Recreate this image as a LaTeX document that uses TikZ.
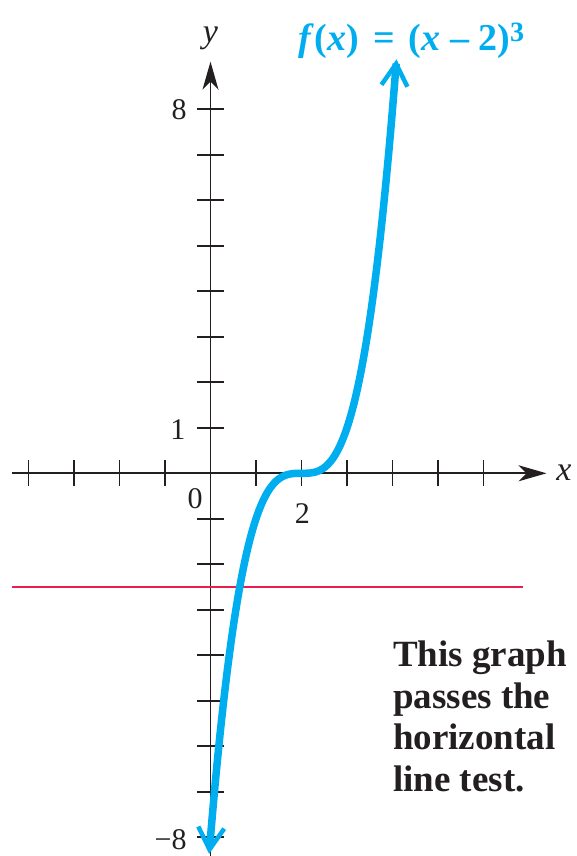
\documentclass[tikz,border=0pt]{standalone}
\usepackage{fontspec}
\setmainfont{Liberation Serif}
\usetikzlibrary{arrows.meta}
\definecolor{fcyan}{RGB}{0,174,239}
\definecolor{hred}{RGB}{232,30,80}
\definecolor{axisgray}{RGB}{35,31,32}
\begin{document}
\begin{tikzpicture}[x=45.5pt,y=45.5pt,
  axis/.style={line width=1.7pt, draw=axisgray},
  tickmark/.style={line width=1.7pt, draw=axisgray},
  axisarrow/.style={-{Stealth[length=28pt,width=16pt,inset=8pt]}},
  curve/.style={line width=7.5pt, draw=fcyan, line cap=butt,
    {Straight Barb[length=22pt,width=26pt,line width=4.5pt]}-{Straight Barb[length=22pt,width=26pt,line width=4.5pt]}},
  hline/.style={line width=1.8pt, draw=hred},
  numlab/.style={font=\fontsize{30}{30}\selectfont, inner sep=0pt, text=axisgray},
  varlab/.style={font=\fontsize{34}{34}\selectfont\itshape, inner sep=0pt, text=axisgray},
  titlelab/.style={font=\fontsize{38}{38}\selectfont\bfseries, inner sep=0pt, text=fcyan},
  notelab/.style={font=\fontsize{37}{41.5}\selectfont\bfseries, inner sep=0pt, align=left, text=axisgray}]
\useasboundingbox (-4.626,-8.411) rectangle (8.055,10.402);
% axes
\coordinate (xl) at (-4.36,0);
\coordinate (xr) at (7.385,0);
\coordinate (yb) at (0,-8.40);
\coordinate (yt) at (0,9.046);
\draw[axis,axisarrow] (xl) -- (xr);
\draw[axis,axisarrow] (yb) -- (yt);
% ticks
\foreach \i in {-4,-3,-2,-1,1,2,3,4,5,6}
  \draw[tickmark] (\i,-0.29) -- (\i,0.29);
\foreach \j in {-8,-7,...,-1,1,2,...,8}
  \draw[tickmark] (-0.29,\j) -- (0.29,\j);
% horizontal line test
\coordinate (hl) at (-4.36,-2.5);
\coordinate (hr) at (6.87,-2.5);
\draw[hline] (hl) -- (hr);
% the graph
\draw[curve] plot[domain=-0.03:4.09, samples=200, smooth] (\x, {(\x-2)^3});
% labels
\node[numlab, anchor=east] (l8) at (-0.52,8) {8};
\node[numlab, anchor=east] (l1) at (-0.55,0.95) {1};
\node[numlab, anchor=east] (lm8) at (-0.52,-8.05) {−8};
\node[numlab] (l0) at (-0.34,-0.56) {0};
\node[numlab] (l2) at (2.02,-0.89) {2};
\node[varlab] (lx) at (7.77,0.02) {x};
\node[varlab] (ly) at (0,9.56) {y};
\node[titlelab, anchor=base] (title) at (4.42,9.30)
  {\textit{f}(\textit{x})\hspace{0.12em} = \hspace{0.12em}(\textit{x} – 2)\raisebox{9pt}{\fontsize{28}{28}\selectfont 3}};
\node[notelab, anchor=north west] (note) at (4.01,-3.686)
  {This graph\\passes the\\horizontal\\line test.};
\end{tikzpicture}
\end{document}
